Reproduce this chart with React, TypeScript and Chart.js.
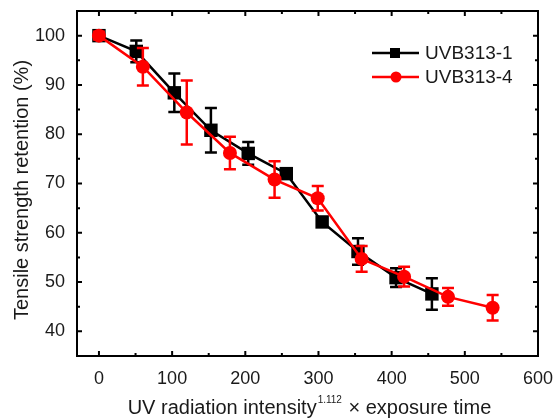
import { useEffect, useRef } from "react";
import { Chart, registerables } from "chart.js";

Chart.register(...registerables);

// UVB313-1 samples (black squares)
const exposure1 = [0, 51, 103, 153, 204, 256, 305, 354, 406, 455];
const retention1 = [100, 96.8, 88.4, 80.8, 76.1, 72.0, 62.2, 56.2, 50.9, 47.6];
const error1 = [0.8, 2.2, 3.9, 4.5, 2.3, 0.8, 0.8, 2.7, 1.9, 3.2];

// UVB313-4 samples (red circles)
const exposure4 = [0, 60, 120, 179, 240, 299, 359, 417, 477, 538];
const retention4 = [100, 93.7, 84.4, 76.2, 70.8, 67.0, 54.7, 51.1, 47.0, 44.8];
const error4 = [0.8, 3.8, 6.5, 3.3, 3.7, 2.5, 2.6, 2.0, 1.8, 2.6];

const seriesNames = ["UVB313-1", "UVB313-4"];

const xTicks = [0, 100, 200, 300, 400, 500, 600];
const yTicks = [40, 50, 60, 70, 80, 90, 100];
const xMinorTicks = [-30, 50, 150, 250, 350, 450, 550];
const yMinorTicks = [45, 55, 65, 75, 85, 95];
const xRange = [-30, 600];
const yRange = [35, 105];

const FONT = "'Liberation Sans', Arial, Helvetica, sans-serif";
const INK = "#1a1a1a";

// Vertical error bars with caps, drawn per dataset
const errorBarPlugin = {
  id: "errorBars",
  afterDatasetDraw(chart: any, args: any) {
    const ds = chart.data.datasets[args.index];
    const errs: number[] = ds.errors || [];
    const meta = args.meta;
    const yScale = chart.scales.y;
    const ctx = chart.ctx;
    ctx.save();
    ctx.strokeStyle = ds.borderColor;
    ctx.lineWidth = 2.5;
    meta.data.forEach((pt: any, i: number) => {
      const v = ds.data[i].y;
      const e = errs[i] || 0;
      const top = yScale.getPixelForValue(v + e);
      const bot = yScale.getPixelForValue(v - e);
      const cap = 6;
      ctx.beginPath();
      ctx.moveTo(pt.x, top);
      ctx.lineTo(pt.x, bot);
      ctx.moveTo(pt.x - cap, top);
      ctx.lineTo(pt.x + cap, top);
      ctx.moveTo(pt.x - cap, bot);
      ctx.lineTo(pt.x + cap, bot);
      ctx.stroke();
    });
    ctx.restore();
  },
};

// Box frame with inward major/minor ticks on all four sides
const framePlugin = {
  id: "frame",
  afterDraw(chart: any) {
    const { ctx, chartArea: a, scales } = chart;
    const xs = scales.x;
    const ys = scales.y;
    ctx.save();
    ctx.strokeStyle = "#000";
    ctx.lineWidth = 2;
    ctx.strokeRect(a.left, a.top, a.right - a.left, a.bottom - a.top);
    const tick = (len: number, vals: number[], axis: "x" | "y") => {
      ctx.beginPath();
      vals.forEach((v) => {
        if (axis === "x") {
          const px = xs.getPixelForValue(v);
          if (px <= a.left + 1 || px >= a.right - 1) return;
          ctx.moveTo(px, a.bottom);
          ctx.lineTo(px, a.bottom - len);
          ctx.moveTo(px, a.top);
          ctx.lineTo(px, a.top + len);
        } else {
          const py = ys.getPixelForValue(v);
          if (py <= a.top + 1 || py >= a.bottom - 1) return;
          ctx.moveTo(a.left, py);
          ctx.lineTo(a.left + len, py);
          ctx.moveTo(a.right, py);
          ctx.lineTo(a.right - len, py);
        }
      });
      ctx.stroke();
    };
    ctx.lineWidth = 2;
    tick(5, xTicks, "x");
    tick(5, yTicks, "y");
    tick(3, xMinorTicks, "x");
    tick(3, yMinorTicks, "y");
    ctx.restore();
  },
};

// Axis titles and the line-and-marker legend
const annotatePlugin = {
  id: "annotate",
  afterDraw(chart: any) {
    const { ctx, chartArea: a } = chart;
    ctx.save();
    ctx.fillStyle = INK;

    // y title
    ctx.font = `20px ${FONT}`;
    ctx.textAlign = "center";
    ctx.textBaseline = "middle";
    ctx.translate(22, 190);
    ctx.rotate(-Math.PI / 2);
    ctx.fillText("Tensile strength retention (%)", 0, 0);
    ctx.setTransform(1, 0, 0, 1, 0, 0);

    // x title with superscript exponent
    const main = "UV radiation intensity";
    const sup = "1.112";
    const tail = " \u00d7 exposure time";
    ctx.textAlign = "left";
    ctx.textBaseline = "alphabetic";
    ctx.font = `20px ${FONT}`;
    const wMain = ctx.measureText(main).width;
    const wTail = ctx.measureText(tail).width;
    ctx.font = `10px ${FONT}`;
    const wSup = ctx.measureText(sup).width;
    const total = wMain + wSup + 2 + wTail;
    const cx = (a.left + a.right) / 2 + 2;
    let x = cx - total / 2;
    const base = 414;
    ctx.font = `20px ${FONT}`;
    ctx.fillText(main, x, base);
    x += wMain + 1;
    ctx.font = `10px ${FONT}`;
    ctx.fillText(sup, x, base - 11);
    x += wSup + 1;
    ctx.font = `20px ${FONT}`;
    ctx.fillText(tail, x, base);

    // legend
    const entries = [
      { name: seriesNames[0], color: "#000", marker: "square", y: 53 },
      { name: seriesNames[1], color: "#ff0000", marker: "circle", y: 77 },
    ];
    entries.forEach((e) => {
      ctx.strokeStyle = e.color;
      ctx.fillStyle = e.color;
      ctx.lineWidth = 2.5;
      ctx.beginPath();
      ctx.moveTo(372, e.y);
      ctx.lineTo(419, e.y);
      ctx.stroke();
      if (e.marker === "square") {
        ctx.fillRect(390, e.y - 5, 10, 10);
      } else {
        ctx.beginPath();
        ctx.arc(396, e.y, 5.5, 0, Math.PI * 2);
        ctx.fill();
      }
      ctx.fillStyle = INK;
      ctx.font = `19px ${FONT}`;
      ctx.textBaseline = "middle";
      ctx.fillText(e.name, 425, e.y + 1);
    });
    ctx.restore();
  },
};

export default function App() {
  const ref = useRef<HTMLCanvasElement | null>(null);

  useEffect(() => {
    if (!ref.current) return;
    const chart = new Chart(ref.current, {
      type: "line",
      data: {
        datasets: [
          {
            label: seriesNames[0],
            data: exposure1.map((x, i) => ({ x, y: retention1[i] })),
            errors: error1,
            borderColor: "#000",
            backgroundColor: "#000",
            borderWidth: 2.5,
            pointStyle: "rect",
            pointRadius: 9.5,
            pointBorderWidth: 0,
            order: 1,
          } as any,
          {
            label: seriesNames[1],
            data: exposure4.map((x, i) => ({ x, y: retention4[i] })),
            errors: error4,
            borderColor: "#ff0000",
            backgroundColor: "#ff0000",
            borderWidth: 2.5,
            pointStyle: "circle",
            pointRadius: 7,
            pointBorderWidth: 0,
            order: 0,
          } as any,
        ],
      },
      options: {
        responsive: false,
        animation: false,
        devicePixelRatio: 1,
        layout: { padding: { top: 11, right: 17, left: 0, bottom: 0 } },
        plugins: { legend: { display: false }, tooltip: { enabled: false } },
        scales: {
          x: {
            type: "linear",
            min: xRange[0],
            max: xRange[1],
            grid: { display: false, drawTicks: false },
            border: { display: false },
            afterBuildTicks: (s: any) => {
              s.ticks = xTicks.map((value) => ({ value }));
            },
            afterFit: (s: any) => {
              s.height = 63;
              s.paddingLeft = 0;
              s.paddingRight = 0;
            },
            ticks: {
              padding: 12,
              color: INK,
              font: { family: FONT, size: 18 },
              maxRotation: 0,
            },
          },
          y: {
            type: "linear",
            min: yRange[0],
            max: yRange[1],
            grid: { display: false, drawTicks: false },
            border: { display: false },
            afterBuildTicks: (s: any) => {
              s.ticks = yTicks.map((value) => ({ value }));
            },
            afterFit: (s: any) => {
              s.width = 77;
              s.paddingTop = 0;
              s.paddingBottom = 0;
            },
            ticks: {
              padding: 12,
              color: INK,
              font: { family: FONT, size: 18 },
            },
          },
        },
      },
      plugins: [errorBarPlugin, framePlugin, annotatePlugin],
    });
    return () => chart.destroy();
  }, []);

  return (
    <div style={{ position: "absolute", left: 0, top: 0, width: 555, height: 419, background: "#fff" }}>
      <canvas ref={ref} width={555} height={419} />
    </div>
  );
}
